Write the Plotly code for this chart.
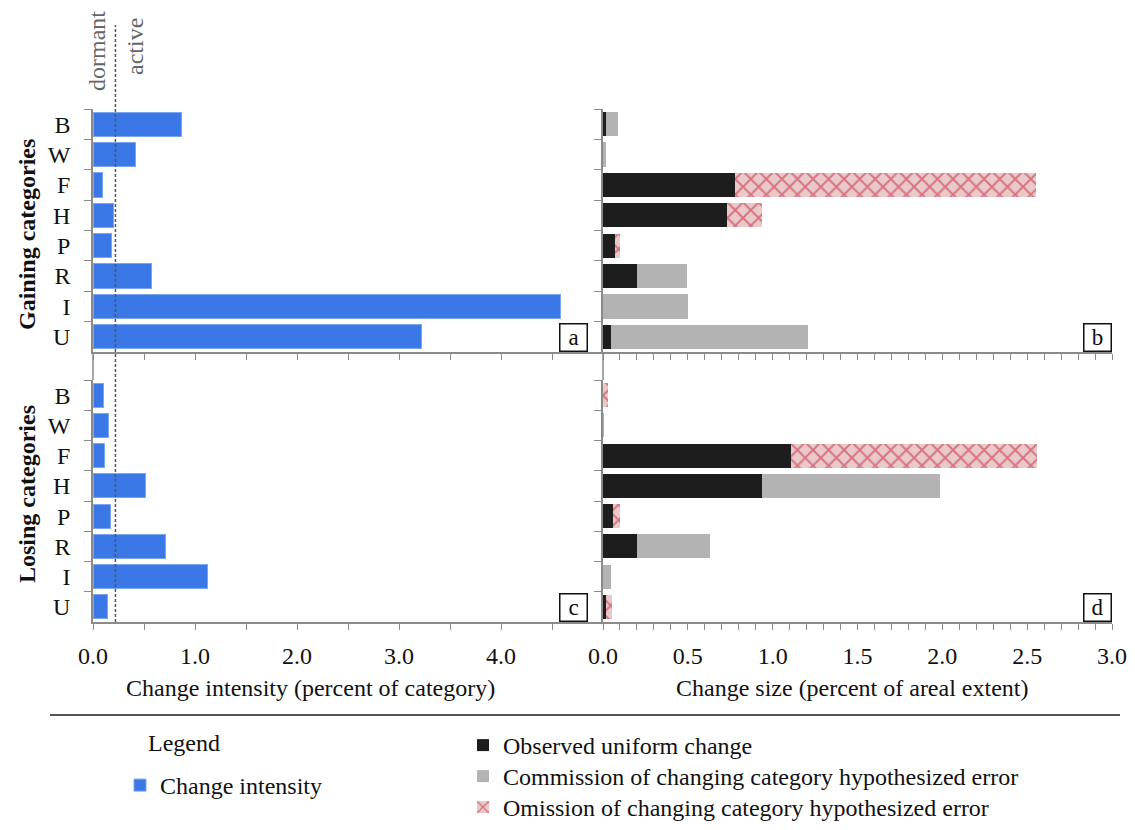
import plotly.graph_objects as go

# ---------------- data ----------------
categories = ["B", "W", "F", "H", "P", "R", "I", "U"]

gain_intensity = [0.87, 0.42, 0.09, 0.20, 0.18, 0.57, 4.58, 3.22]
loss_intensity = [0.10, 0.15, 0.11, 0.51, 0.17, 0.71, 1.12, 0.14]
uniform_intensity = 0.22

gain_observed = [0.02, 0.0, 0.78, 0.73, 0.07, 0.20, 0.0, 0.047]
gain_commission = [0.067, 0.015, 0.0, 0.0, 0.0, 0.295, 0.50, 1.163]
gain_omission = [0.0, 0.0, 1.77, 0.21, 0.03, 0.0, 0.0, 0.0]

loss_observed = [0.0, 0.0, 1.11, 0.935, 0.06, 0.20, 0.0, 0.016]
loss_commission = [0.0, 0.005, 0.0, 1.05, 0.0, 0.433, 0.047, 0.0]
loss_omission = [0.03, 0.0, 1.445, 0.0, 0.04, 0.0, 0.0, 0.037]

intensity_tickvals = [0.0, 0.5, 1.0, 1.5, 2.0, 2.5, 3.0, 3.5, 4.0, 4.5, 5.0]
intensity_ticktext = ["0.0", "", "1.0", "", "2.0", "", "3.0", "", "4.0", "", ""]
size_tickvals = [round(i * 0.1, 1) for i in range(31)]
size_ticktext = [f"{v:.1f}" if abs(v * 2 - round(v * 2)) < 1e-9 else "" for v in size_tickvals]

# ---------------- style ----------------
W, H = 1135, 830
FONT = "Liberation Serif, Times New Roman, serif"
BLUE = "#3a78e8"
BLACK = "#1d1d1d"
GRAY = "#b3b3b3"
PINK_BG = "#e9c9c9"
RED = "#c8203a"
AXIS = "#8a8a8a"


def px(x):
    return x / W


def py(y):
    return 1 - y / H


xa_dom = [px(93), px(603)]
xb_dom = [px(603), px(1112)]
top_dom = [py(352), py(109)]
bot_dom = [py(622), py(380)]

fig = go.Figure()

# intensity bars
fig.add_trace(go.Bar(x=gain_intensity, y=categories, orientation="h", xaxis="x", yaxis="y",
                     marker=dict(color=BLUE, line=dict(color="#7aa6f2", width=1)),
                     name="Change intensity", legend="legend", showlegend=True))
fig.add_trace(go.Bar(x=loss_intensity, y=categories, orientation="h", xaxis="x3", yaxis="y3",
                     marker=dict(color=BLUE, line=dict(color="#7aa6f2", width=1)),
                     name="Change intensity", legend="legend", showlegend=False))

# size bars (each series gets its own legend box so rows can be placed like the reference)
specs = [
    ("Observed uniform change", gain_observed, loss_observed, dict(color=BLACK), "legend2"),
    ("Commission of changing category hypothesized error", gain_commission, loss_commission,
     dict(color=GRAY), "legend3"),
    ("Omission of changing category hypothesized error", gain_omission, loss_omission,
     dict(color=PINK_BG, pattern=dict(shape="x", bgcolor=PINK_BG, fgcolor=RED, size=11, solidity=0.33)),
     "legend4"),
]
for name, g, l, mk, lg in specs:
    fig.add_trace(go.Bar(x=g, y=categories, orientation="h", xaxis="x2", yaxis="y2",
                         marker=dict(**mk, line=dict(width=0)), name=name, legend=lg,
                         legendgroup=name, showlegend=True))
    fig.add_trace(go.Bar(x=l, y=categories, orientation="h", xaxis="x4", yaxis="y4",
                         marker=dict(**mk, line=dict(width=0)), name=name, legend=lg,
                         legendgroup=name, showlegend=False))

tickfont = dict(family=FONT, size=24, color="#111")

common_x = dict(showline=True, linecolor=AXIS, linewidth=1.5, ticks="outside", ticklen=6,
                tickcolor=AXIS, tickwidth=1.2, showgrid=False, zeroline=False, tickfont=tickfont,
                automargin=False)
common_y = dict(showline=True, linecolor=AXIS, linewidth=1.5, ticks="outside", ticklen=7,
                tickcolor=AXIS, tickwidth=1.2, showgrid=False, zeroline=False,
                type="category", categoryorder="array", categoryarray=categories,
                range=[7.5, -0.5], tickson="boundaries", tickfont=tickfont, automargin=False)


def legend_box(x, y_top):
    return dict(x=px(x), y=py(y_top), xanchor="left", yanchor="top", bgcolor="rgba(0,0,0,0)",
                font=dict(family=FONT, size=24, color="#111"), traceorder="normal")


fig.update_layout(
    width=W, height=H, margin=dict(l=0, r=0, t=0, b=0, autoexpand=False),
    paper_bgcolor="white", plot_bgcolor="rgba(0,0,0,0)",
    barmode="stack", bargap=0.2,
    font=dict(family=FONT, size=24, color="#111"),
    xaxis=dict(domain=xa_dom, anchor="y", range=[0, 5], tickvals=intensity_tickvals,
               showticklabels=False, **common_x),
    yaxis=dict(domain=top_dom, anchor="x", showticklabels=True, ticklabelstandoff=16, **common_y),
    xaxis2=dict(domain=xb_dom, anchor="y2", range=[0, 3], tickvals=size_tickvals,
                showticklabels=False, **common_x),
    yaxis2=dict(domain=top_dom, anchor="x2", showticklabels=False, **common_y),
    xaxis3=dict(domain=xa_dom, anchor="y3", range=[0, 5], tickvals=intensity_tickvals,
                ticktext=intensity_ticktext, showticklabels=True, ticklabelstandoff=5, **common_x),
    yaxis3=dict(domain=bot_dom, anchor="x3", showticklabels=True, ticklabelstandoff=16, **common_y),
    xaxis4=dict(domain=xb_dom, anchor="y4", range=[0, 3], tickvals=size_tickvals,
                ticktext=size_ticktext, showticklabels=True, ticklabelstandoff=5, **common_x),
    yaxis4=dict(domain=bot_dom, anchor="x4", showticklabels=False, **common_y),
    legend=legend_box(120, 763),
    legend2=legend_box(463, 723),
    legend3=legend_box(463, 754),
    legend4=legend_box(463, 785),
)

shapes = [
    # uniform intensity threshold (dormant / active)
    dict(type="line", xref="x", yref="paper", x0=uniform_intensity, x1=uniform_intensity,
         y0=py(622), y1=py(25), line=dict(color="#555", width=1.5, dash="3px,2px")),
    # continuous left axis lines between upper and lower panels
    dict(type="line", xref="x domain", yref="paper", x0=0, x1=0, y0=py(380), y1=py(352),
         line=dict(color=AXIS, width=1.5)),
    dict(type="line", xref="x2 domain", yref="paper", x0=0, x1=0, y0=py(380), y1=py(352),
         line=dict(color=AXIS, width=1.5)),
    # separator above the legend
    dict(type="line", xref="paper", yref="paper", x0=px(50), x1=px(1120), y0=py(715), y1=py(715),
         line=dict(color="#555", width=2)),
]
fig.update_layout(shapes=shapes)


def note(x, y, text, size=24, color="#111", angle=0, xanchor="center"):
    return dict(xref="paper", yref="paper", x=px(x), y=py(y), text=text, showarrow=False,
                textangle=angle, xanchor=xanchor, yanchor="middle",
                font=dict(family=FONT, size=size, color=color))


annotations = []
# panel letters
for xr, yr, letter, xpos in [("x", "y", "a", 1 - 15 / 510), ("x2", "y2", "b", 1.0),
                             ("x3", "y3", "c", 1 - 15 / 510), ("x4", "y4", "d", 1.0)]:
    annotations.append(dict(xref=f"{xr} domain", yref=f"{yr} domain", x=xpos, y=0,
                            xanchor="right", yanchor="bottom", text=letter, showarrow=False,
                            font=dict(family=FONT, size=23, color="#111"),
                            bordercolor="#111", borderwidth=1.5, borderpad=2, bgcolor="white",
                            width=22, height=22))
annotations += [
    note(97, 51, "dormant", color="#666", angle=-90),
    note(135, 47, "active", color="#666", angle=-90),
    note(27, 235, "<b>Gaining categories</b>", angle=-90),
    note(27, 494, "<b>Losing categories</b>", angle=-90),
    note(310, 688, "Change intensity (percent of category)"),
    note(852, 688, "Change size (percent of areal extent)"),
    note(146, 743, "Legend", xanchor="left"),
]
fig.update_layout(annotations=annotations)

fig.write_html("out.html", config={"displayModeBar": False},
               post_script="document.body.style.margin='0px';")
